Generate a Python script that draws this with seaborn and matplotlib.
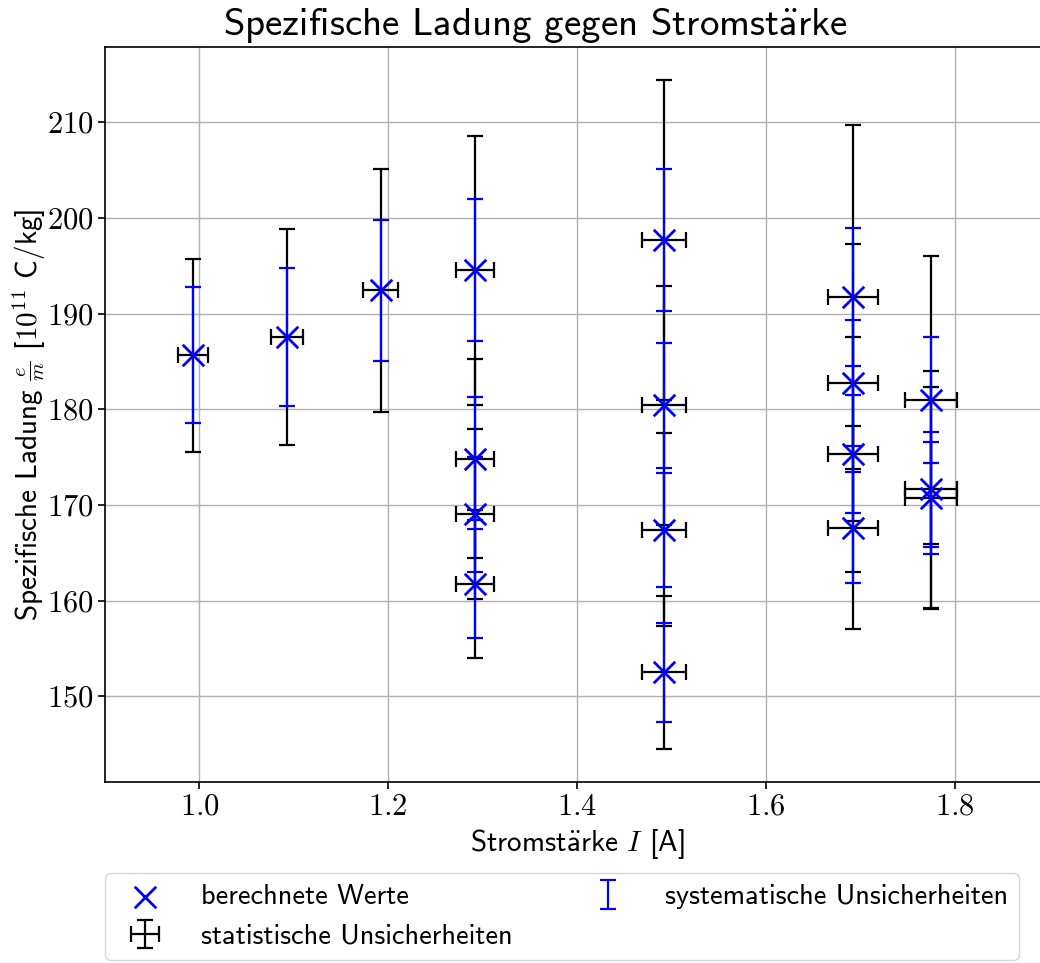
import matplotlib
matplotlib.use("Agg")
import matplotlib.pyplot as plt
import seaborn as sns
from matplotlib.ticker import FuncFormatter, MultipleLocator

# Stromstärke I in A (ein Eintrag je Messpunkt)
strom = [0.993, 1.093, 1.192,
         1.292, 1.292, 1.292, 1.292,
         1.492, 1.492, 1.492, 1.492,
         1.692, 1.692, 1.692, 1.692,
         1.775, 1.775, 1.775]
strom_err = [0.0156, 0.0172, 0.0187,
             0.0203, 0.0203, 0.0203, 0.0203,
             0.0234, 0.0234, 0.0234, 0.0234,
             0.0266, 0.0266, 0.0266, 0.0266,
             0.0279, 0.0279, 0.0279]

# spezifische Ladung e/m in 10^11 C/kg
em = [185.65, 187.56, 192.44,
      194.56, 174.86, 169.05, 161.78,
      197.70, 180.41, 167.42, 152.50,
      191.75, 182.78, 175.30, 167.64,
      180.98, 171.64, 170.74]
em_stat = [10.1, 11.27, 12.7,
           14.06, 10.37, 8.92, 7.73,
           16.68, 12.48, 10.09, 7.95,
           18.0, 14.5, 12.26, 10.57,
           15.07, 12.4, 11.6]
em_sys = [7.12, 7.2, 7.4,
          7.41, 6.4, 6.0, 5.7,
          7.47, 6.55, 5.95, 5.2,
          7.25, 6.6, 6.17, 5.83,
          6.55, 6.0, 5.9]

# ä in Computer Modern Sans über mathtext
AE = r"$\ddot{\mathsf{a}}$"

sns.set_style("ticks", {"axes.grid": True, "grid.color": "#b0b0b0",
                        "axes.edgecolor": "black", "axes.labelcolor": "black",
                        "text.color": "black", "xtick.color": "black",
                        "ytick.color": "black", "xtick.top": False,
                        "ytick.right": False})
plt.rcParams["font.family"] = ["cmss10", "DejaVu Sans"]
plt.rcParams["mathtext.fontset"] = "cm"
plt.rcParams["axes.formatter.use_mathtext"] = True

fig = plt.figure(figsize=(10.4, 9.63), dpi=100)
ax = fig.add_axes([0.101, 0.188, 0.9077, 0.7632])

# statistische Unsicherheiten (schwarz), darüber systematische (blau)
stat = ax.errorbar(strom, em, xerr=strom_err, yerr=em_stat, fmt="none",
                   ecolor="black", elinewidth=1.6, capsize=6, capthick=1.6,
                   zorder=2)
sys_ = ax.errorbar(strom, em, yerr=em_sys, fmt="none", ecolor="blue",
                   elinewidth=1.6, capsize=6, capthick=1.6, zorder=3)
sns.scatterplot(x=strom, y=em, marker="x", s=240, color="blue",
                linewidth=2, zorder=4, ax=ax, legend=False)
sc = ax.collections[-1]

ax.set_xlim(0.9, 1.9)
ax.xaxis.set_major_locator(MultipleLocator(0.2))
ax.yaxis.set_major_locator(MultipleLocator(10))
ax.xaxis.set_major_formatter(FuncFormatter(lambda v, p: f"${v:.1f}$"))
ax.yaxis.set_major_formatter(FuncFormatter(lambda v, p: f"${v:.0f}$"))
ax.tick_params(labelsize=22, length=5, width=1.2, color="black")
for s in ax.spines.values():
    s.set_linewidth(1.2)
ax.grid(True, color="#b0b0b0", linewidth=1.0)
ax.set_axisbelow(True)

ax.set_xlabel("Stromst" + AE + r"rke $I$ [A]", fontsize=21, labelpad=4)
ax.set_ylabel(r"Spezifische Ladung $\frac{e}{m}$ [$10^{11}$ C/kg]",
              fontsize=21, labelpad=-1)
fig.suptitle("Spezifische Ladung gegen Stromst" + AE + "rke",
             x=0.515, y=0.974, va="center", fontsize=28)

ax.legend([sc, stat, sys_],
          ["berechnete Werte", "statistische Unsicherheiten",
           "systematische Unsicherheiten"],
          ncol=2, loc="upper left", bbox_to_anchor=(0.0, -0.124),
          borderaxespad=0, fontsize=20.4, handletextpad=1.0,
          columnspacing=2.35, frameon=True)

fig.savefig("out.png", dpi=100)
